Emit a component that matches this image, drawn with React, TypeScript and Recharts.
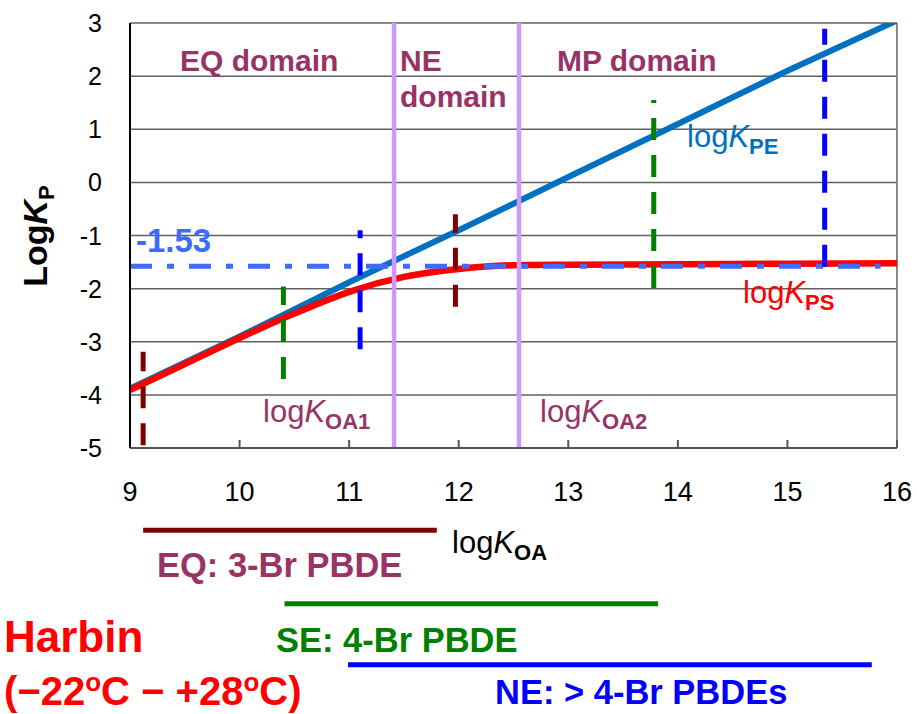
import React from "react"
import { CartesianGrid, Customized, Line, LineChart, ReferenceLine, XAxis, YAxis } from "recharts"

// logKOA vs logKP (Harbin)
const xTicks = [9, 10, 11, 12, 13, 14, 15, 16]
const yTicks = [-5, -4, -3, -2, -1, 0, 1, 2, 3]

const peData = [
  { x: 9, y: -3.88 },
  { x: 10, y: -2.9 },
  { x: 11, y: -1.88 },
  { x: 12, y: -0.9 },
  { x: 13, y: 0.1 },
  { x: 14, y: 1.1 },
  { x: 15, y: 2.1 },
  { x: 16, y: 3.05 },
]

const psData = [
  { x: 9, y: -3.91 },
  { x: 9.5, y: -3.42 },
  { x: 10, y: -2.93 },
  { x: 10.5, y: -2.47 },
  { x: 11, y: -2.06 },
  { x: 11.5, y: -1.78 },
  { x: 12, y: -1.63 },
  { x: 12.5, y: -1.56 },
  { x: 13, y: -1.55 },
  { x: 14, y: -1.54 },
  { x: 15, y: -1.53 },
  { x: 16, y: -1.52 },
]

const domainBounds = [11.41, 12.55] // logKOA1, logKOA2
const thresholdY = -1.58
const thresholdEnd = 15.85

// short dashed markers
const markX = [9.12, 10.4, 11.1, 11.97, 13.78, 15.34]
const markTop = [-3.19, -1.96, -0.9, -0.6, 1.55, 2.89]
const markBottom = [-4.95, -3.7, -3.14, -2.34, -1.99, -1.59]
const markColors = ["#800000", "#008000", "#0000ff", "#800000", "#008000", "#0000ff"]

// logKOA ranges under the axis
const rangeStart = [9.12, 10.41, 10.99]
const rangeEnd = [11.8, 13.82, 15.77]
const rangeLevel = [-6.55, -7.93, -9.08]
const rangeColors = ["#800000", "#008000", "#0000ff"]

const FONT = '"Liberation Sans", Arial, sans-serif'
const PURPLE = "#993366"

function XTick({ x, y, payload }: any) {
  return (
    <text x={x} y={y} dy="0.71em" textAnchor="middle" fill="#000" fontFamily={FONT} fontSize={27}>
      {payload.value}
    </text>
  )
}

function YTick({ x, y, payload }: any) {
  return (
    <text x={x} y={y} dy="0.36em" textAnchor="end" fill="#000" fontFamily={FONT} fontSize={25}>
      {payload.value}
    </text>
  )
}

function LogK({ x, y, sub, color, size = 31, subSize = 22 }: any) {
  return (
    <text x={x} y={y} fill={color} fontFamily={FONT} fontSize={size}>
      log
      <tspan fontStyle="italic">K</tspan>
      <tspan fontSize={subSize} fontWeight="bold" dy={7}>
        {sub}
      </tspan>
    </text>
  )
}

function Annotations() {
  return (
    <g fontFamily={FONT}>
      <g fill={PURPLE} fontWeight="bold" fontSize={30}>
        <text x={180} y={71}>EQ domain</text>
        <text x={400} y={71}>NE</text>
        <text x={400} y={107}>domain</text>
        <text x={557} y={71}>MP domain</text>
      </g>
      <LogK x={687} y={147} sub="PE" color="#0070c0" />
      <LogK x={743} y={303} sub="PS" color="#ff0000" />
      <LogK x={263} y={422} sub="OA1" color={PURPLE} />
      <LogK x={540} y={422} sub="OA2" color={PURPLE} />
      <LogK x={452} y={553} sub="OA" color="#000" />
      <text x={136} y={252} fill="#3d6bff" fontWeight="bold" fontSize={33}>-1.53</text>
      <text
        x={47}
        y={236}
        transform="rotate(-90 47 236)"
        textAnchor="middle"
        fontWeight="bold"
        fontSize={34}
        fill="#000"
      >
        Log
        <tspan fontStyle="italic">K</tspan>
        <tspan fontSize={22} dy={7}>P</tspan>
      </text>
      <g fontWeight="bold" fontSize={34.5}>
        <text x={157} y={577} fill={PURPLE}>EQ: 3-Br PBDE</text>
        <text x={276} y={652} fill="#008000">SE: 4-Br PBDE</text>
        <text x={495} y={704} fill="#0000ff">NE: &gt; 4-Br PBDEs</text>
      </g>
      <text x={4} y={652} fill="#ff0000" fontWeight="bold" fontSize={44}>Harbin</text>
      <text x={4} y={705} fill="#ff0000" fontWeight="bold" fontSize={40}>
        (−22
        <tspan fontSize={26} dy={-14}>o</tspan>
        <tspan dy={14}>C − +28</tspan>
        <tspan fontSize={26} dy={-14}>o</tspan>
        <tspan dy={14}>C)</tspan>
      </text>
    </g>
  )
}

export default function App() {
  return (
    <div style={{ position: "absolute", left: 0, top: 0, background: "#fff" }}>
      <LineChart width={917} height={714} margin={{ top: 23, right: 20, bottom: 236, left: 70 }}>
        <CartesianGrid vertical={false} stroke="#606060" strokeWidth={1.5} />
        <XAxis
          type="number"
          dataKey="x"
          domain={[9, 16]}
          ticks={xTicks}
          allowDataOverflow
          tickSize={-8}
          tickMargin={42}
          stroke="#555"
          strokeWidth={2}
          tick={<XTick />}
        />
        <YAxis
          type="number"
          domain={[-5, 3]}
          ticks={yTicks}
          allowDataOverflow
          width={60}
          tickLine={false}
          tickMargin={22}
          axisLine={{ stroke: "#000", strokeWidth: 2 }}
          tick={<YTick />}
        />
        <ReferenceLine x={16} stroke="#888" strokeWidth={2} />
        <Line data={peData} dataKey="y" stroke="#0070c0" strokeWidth={6} dot={false} isAnimationActive={false} />
        <Line
          data={psData}
          type="monotone"
          dataKey="y"
          stroke="#ff0000"
          strokeWidth={6.5}
          dot={false}
          isAnimationActive={false}
        />
        <ReferenceLine
          segment={[
            { x: 9, y: thresholdY },
            { x: thresholdEnd, y: thresholdY },
          ]}
          stroke="#3d6bff"
          strokeWidth={5}
          strokeDasharray="22 15 7 15"
        />
        {markX.map((x, i) => (
          <ReferenceLine
            key={"m" + i}
            segment={[
              { x, y: markBottom[i] },
              { x, y: markTop[i] },
            ]}
            stroke={markColors[i]}
            strokeWidth={5}
            strokeDasharray="22 15"
          />
        ))}
        {domainBounds.map((x, i) => (
          <ReferenceLine key={"d" + i} x={x} stroke="#cc99ff" strokeWidth={4.5} />
        ))}
        {rangeStart.map((x, i) => (
          <ReferenceLine
            key={"r" + i}
            ifOverflow="visible"
            segment={[
              { x, y: rangeLevel[i] },
              { x: rangeEnd[i], y: rangeLevel[i] },
            ]}
            stroke={rangeColors[i]}
            strokeWidth={5}
          />
        ))}
        <Customized component={Annotations} />
      </LineChart>
    </div>
  )
}
